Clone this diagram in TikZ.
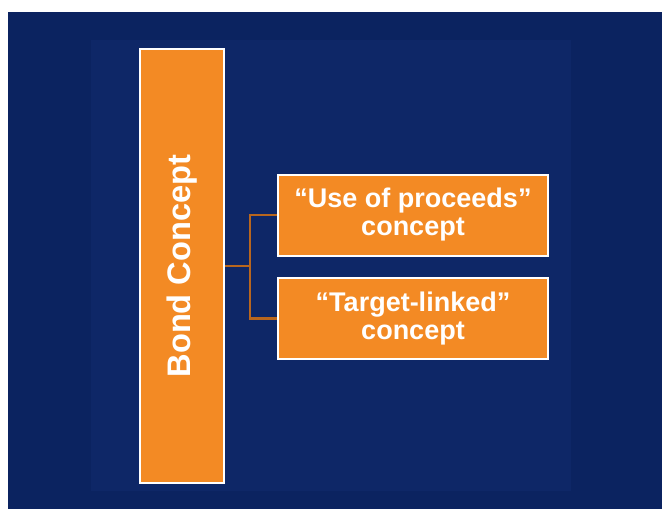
\documentclass[tikz,border=0pt]{standalone}
\usepackage{fontspec}
\setmainfont{Liberation Sans}
\usepackage{graphicx}
\definecolor{bgdark}{HTML}{0B2360}
\definecolor{bginner}{HTML}{0E2767}
\definecolor{boxorange}{HTML}{F38A24}
\definecolor{connbrown}{HTML}{B8661E}
\tikzset{
  orangebox/.style={draw=white, line width=2pt, fill=boxorange, text=white,
    font=\bfseries\fontsize{27}{28}\selectfont, align=center, inner sep=0pt},
  conn/.style={draw=connbrown, line width=2.2pt}
}
\begin{document}
\begin{tikzpicture}[x=1pt,y=-1pt]
\fill[white] (0,0) rectangle (662,509);
\useasboundingbox (0,0) rectangle (662,509);
\fill[bgdark] (8,12) rectangle (662,509);
\fill[bginner] (91,40) rectangle (571,491);
\node[orangebox, minimum width=84pt, minimum height=434pt,
  font=\bfseries\fontsize{32.6}{36}\selectfont] (bond) at (182,266) {\rotatebox{90}{Bond Concept}};
\node[orangebox, minimum width=270pt, minimum height=81pt] (u) at (413,215) {“Use of proceeds”\\concept};
\node[orangebox, minimum width=270pt, minimum height=81pt] (t) at (413,318.5) {“Target-linked”\\concept};
\coordinate (j) at (250,266);
\draw[conn] (bond.east) -- (bond.east -| j);
\draw[conn] (u.west) -- (u.west -| j) -- (t.west -| j) -- (t.west);
\end{tikzpicture}
\end{document}
